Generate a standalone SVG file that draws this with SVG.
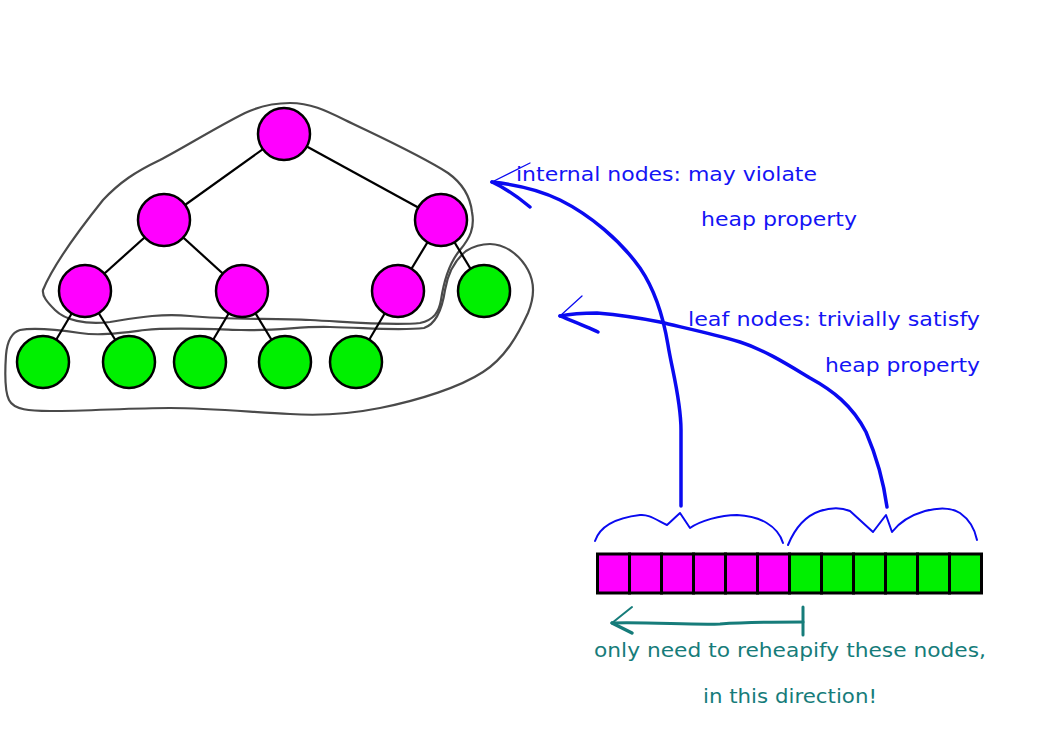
<svg xmlns="http://www.w3.org/2000/svg" width="1052" height="744" viewBox="0 0 1052 744">
<style>
.blob{fill:none;stroke:#4a4a4a;stroke-width:2.2;stroke-linejoin:round}
.edge{stroke:#000;stroke-width:2.2}
.int{fill:#ff00ff;stroke:#000;stroke-width:2.5}
.leaf{fill:#00f000;stroke:#000;stroke-width:2.5}
.cellI{fill:#ff00ff;stroke:#000;stroke-width:3}
.cellL{fill:#00f000;stroke:#000;stroke-width:3}
.blue{fill:none;stroke:#0a0af0;stroke-linecap:round;stroke-linejoin:round}
.teal{fill:none;stroke:#167c7a;stroke-linecap:round;stroke-linejoin:round}
.tb{font-family:"DejaVu Sans","Liberation Sans",sans-serif;font-size:20px;fill:#1414f5}
.tt{font-family:"DejaVu Sans","Liberation Sans",sans-serif;font-size:20px;fill:#167c7a}
</style>
<rect width="1052" height="744" fill="#fff"/>
<g id="blobs">
<path class="blob" d="M43,290 C52,268 75,235 103,200 C120,182 135,172 160,160 C185,147 215,128 245,113 C262,105 276,103 290,103 C310,103 325,110 345,120 C380,137 420,155 448,173 C462,183 470,195 472,212 C475,228 470,238 460,250 C450,262 444,280 441,300 C439,312 434,320 420,323 C390,326 350,322 310,320 C270,318 230,320 190,316 C160,313 135,318 110,322 C85,325 65,320 55,310 C47,302 42,296 43,290 Z"/>
<path class="blob" d="M490,244 C505,244 520,255 528,270 C535,283 535,296 528,313 C518,335 505,358 483,372 C460,387 420,400 380,408 C350,414 320,416 290,414 C250,412 210,408 170,408 C130,408 90,411 50,411 C30,411 14,410 9,400 C4,390 5,370 6,355 C7,343 10,333 20,330 C35,327 60,330 80,333 C100,336 120,333 145,330 C170,327 210,329 241,330 C280,331 300,326 330,327 C370,328 400,331 424,328 C436,324 442,310 445,290 C448,272 455,260 466,251 C474,246 482,244 490,244 Z"/>
</g>
<g id="connectors">
<line class="edge" x1="284" y1="134" x2="164" y2="220"/>
<line class="edge" x1="284" y1="134" x2="441" y2="220"/>
<line class="edge" x1="164" y1="220" x2="85" y2="291"/>
<line class="edge" x1="164" y1="220" x2="242" y2="291"/>
<line class="edge" x1="441" y1="220" x2="398" y2="291"/>
<line class="edge" x1="441" y1="220" x2="484" y2="291"/>
<line class="edge" x1="85" y1="291" x2="43" y2="362"/>
<line class="edge" x1="85" y1="291" x2="129" y2="362"/>
<line class="edge" x1="242" y1="291" x2="200" y2="362"/>
<line class="edge" x1="242" y1="291" x2="285" y2="362"/>
<line class="edge" x1="398" y1="291" x2="356" y2="362"/>
</g>
<g id="n1"><circle class="int" cx="284" cy="134" r="26"/></g>
<g id="n2"><circle class="int" cx="164" cy="220" r="26"/></g>
<g id="n3"><circle class="int" cx="441" cy="220" r="26"/></g>
<g id="n4"><circle class="int" cx="85" cy="291" r="26"/></g>
<g id="n5"><circle class="int" cx="242" cy="291" r="26"/></g>
<g id="n6"><circle class="int" cx="398" cy="291" r="26"/></g>
<g id="n7"><circle class="leaf" cx="484" cy="291" r="26"/></g>
<g id="n8"><circle class="leaf" cx="43" cy="362" r="26"/></g>
<g id="n9"><circle class="leaf" cx="129" cy="362" r="26"/></g>
<g id="n10"><circle class="leaf" cx="200" cy="362" r="26"/></g>
<g id="n11"><circle class="leaf" cx="285" cy="362" r="26"/></g>
<g id="n12"><circle class="leaf" cx="356" cy="362" r="26"/></g>
<g id="array">
<rect class="cellI" x="597.5" y="554" width="32" height="39"/>
<rect class="cellI" x="629.5" y="554" width="32" height="39"/>
<rect class="cellI" x="661.5" y="554" width="32" height="39"/>
<rect class="cellI" x="693.5" y="554" width="32" height="39"/>
<rect class="cellI" x="725.5" y="554" width="32" height="39"/>
<rect class="cellI" x="757.5" y="554" width="32" height="39"/>
<rect class="cellL" x="789.5" y="554" width="32" height="39"/>
<rect class="cellL" x="821.5" y="554" width="32" height="39"/>
<rect class="cellL" x="853.5" y="554" width="32" height="39"/>
<rect class="cellL" x="885.5" y="554" width="32" height="39"/>
<rect class="cellL" x="917.5" y="554" width="32" height="39"/>
<rect class="cellL" x="949.5" y="554" width="32" height="39"/>
</g>
<g id="annotations">
<path class="blue" stroke-width="2" d="M595,541 C600,526 615,518 640,515 C648,514 655,519 667,525 L680,513 L690,528 C700,521 720,515 737,515 C760,516 778,526 783,543"/>
<path class="blue" stroke-width="2" d="M788,545 C795,528 805,516 820,511 C832,507 843,508 850,511 L873,532 L886,515 L892,532 C898,524 908,516 925,511 C940,507 952,508 960,513 C970,520 975,530 977,540"/>
<path class="blue" stroke-width="3.5" d="M681,506 L681,430 C681,400 672,370 668,345 C663,315 655,290 640,268 C620,240 590,215 560,200 C540,190 520,185 492,182"/>
<path class="blue" stroke-width="1.3" d="M492,182 L530,163"/>
<path class="blue" stroke-width="3.5" d="M492,182 C505,188 518,197 530,207"/>
<path class="blue" stroke-width="3.5" d="M887,507 C884,485 878,460 866,432 C852,405 832,390 810,378 C790,366 765,350 740,342 C710,333 680,327 660,322 C640,318 620,315 597,313 C580,313 570,314 560,316"/>
<path class="blue" stroke-width="1.3" d="M560,316 L582,296"/>
<path class="blue" stroke-width="3.5" d="M560,316 C575,322 588,327 598,332"/>
<path class="teal" stroke-width="3" d="M612,623 C650,622 690,625 720,624 C750,622 780,622 803,622"/>
<path class="teal" stroke-width="3" d="M803,607 L803,635"/>
<path class="teal" stroke-width="2" d="M612,623 L632,607"/>
<path class="teal" stroke-width="3.5" d="M612,623 L632,633"/>
</g>
<g id="labels">
<text class="tb" x="516" y="181" textLength="301" lengthAdjust="spacingAndGlyphs">internal nodes: may violate</text>
<text class="tb" x="701" y="226" textLength="156" lengthAdjust="spacingAndGlyphs">heap property</text>
<text class="tb" x="688" y="326" textLength="292" lengthAdjust="spacingAndGlyphs">leaf nodes: trivially satisfy</text>
<text class="tb" x="825" y="372" textLength="155" lengthAdjust="spacingAndGlyphs">heap property</text>
<text class="tt" x="594" y="657" textLength="392" lengthAdjust="spacingAndGlyphs">only need to reheapify these nodes,</text>
<text class="tt" x="703" y="703" textLength="174" lengthAdjust="spacingAndGlyphs">in this direction!</text>
</g>
</svg>
